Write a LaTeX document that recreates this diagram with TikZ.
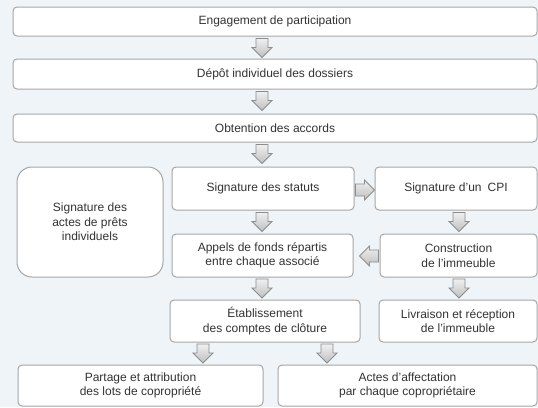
\documentclass[tikz,border=0pt]{standalone}
\usepackage{fontspec}
\setmainfont{Liberation Sans}
\usetikzlibrary{calc}
\definecolor{bg}{HTML}{EEF4F8}
\definecolor{boxline}{HTML}{A6A6A6}
\definecolor{txt}{HTML}{333333}
\definecolor{arrline}{HTML}{8C8C8C}
\begin{document}
\begin{tikzpicture}[x=1pt,y=-1pt,
  box/.style={draw=boxline, line width=1pt, fill=white, rounded corners=4pt, align=center, text=txt, font=\fontsize{12}{14.5}\selectfont, inner sep=0pt},
  arrsty/.style={draw=arrline, line width=0.8pt, top color=gray!12, bottom color=gray!50, line join=miter},
  darr/.pic={\path[arrsty] (-6,0) -- (6,0) -- (6,9) -- (10,9) -- (0,19) -- (-10,9) -- (-6,9) -- cycle;}
]
\fill[bg] (0,0) rectangle (538,407);
\useasboundingbox (0,0) rectangle (538,407);

\node[box, minimum width=524pt, minimum height=29pt] (b1) at (275,21.5) {Engagement de participation};
\node[box, minimum width=524pt, minimum height=30pt] (b2) at (275,74) {Dépôt individuel des dossiers};
\node[box, minimum width=524pt, minimum height=28pt] (b3) at (275,128) {Obtention des accords};
\node[box, rounded corners=15pt, minimum width=146pt, minimum height=110pt] (prets) at (90,222) {Signature des\\actes de prêts\\individuels};
\node[box, minimum width=182pt, minimum height=43pt] (statuts) at (263,188.5) {Signature des statuts};
\node[box, minimum width=162pt, minimum height=43pt] (cpi) at (456,188.5) {Signature d’un\hspace{0.5em}CPI};
\node[box, minimum width=181pt, minimum height=43pt] (appels) at (262.5,255.5) {Appels de fonds répartis\\entre chaque associé};
\node[box, minimum width=157pt, minimum height=43pt] (constr) at (458.5,255.5) {Construction\\de l’immeuble};
\node[box, minimum width=190pt, minimum height=42pt] (etab) at (265,321) {Établissement\\des comptes de clôture};
\node[box, minimum width=158pt, minimum height=42pt] (livr) at (458,321) {Livraison et réception\\de l’immeuble};
\node[box, minimum width=245pt, minimum height=41pt] (partage) at (140.5,385.5) {Partage et attribution\\des lots de copropriété};
\node[box, minimum width=259pt, minimum height=41pt] (actes) at (407.5,385.5) {Actes d’affectation\\par chaque copropriétaire};

\pic at ($(b1.south)+(-13,2)$) {darr};
\pic at ($(b2.south)+(-13,2)$) {darr};
\pic at ($(b3.south)+(-13,2)$) {darr};
\pic[rotate=90] at ($(statuts.east)+(1,1.5)$) {darr};
\pic at ($(statuts.south)+(-1,2)$) {darr};
\pic at ($(cpi.south)+(3,2)$) {darr};
\pic[rotate=-90] at ($(constr.west)+(-1,0.5)$) {darr};
\pic at ($(appels.south)+(-0.5,1.5)$) {darr};
\pic at ($(constr.south)+(0.5,1.5)$) {darr};
\pic at ($(etab.south)+(-62,1.5)$) {darr};
\pic at ($(etab.south)+(62,1.5)$) {darr};
\end{tikzpicture}
\end{document}
